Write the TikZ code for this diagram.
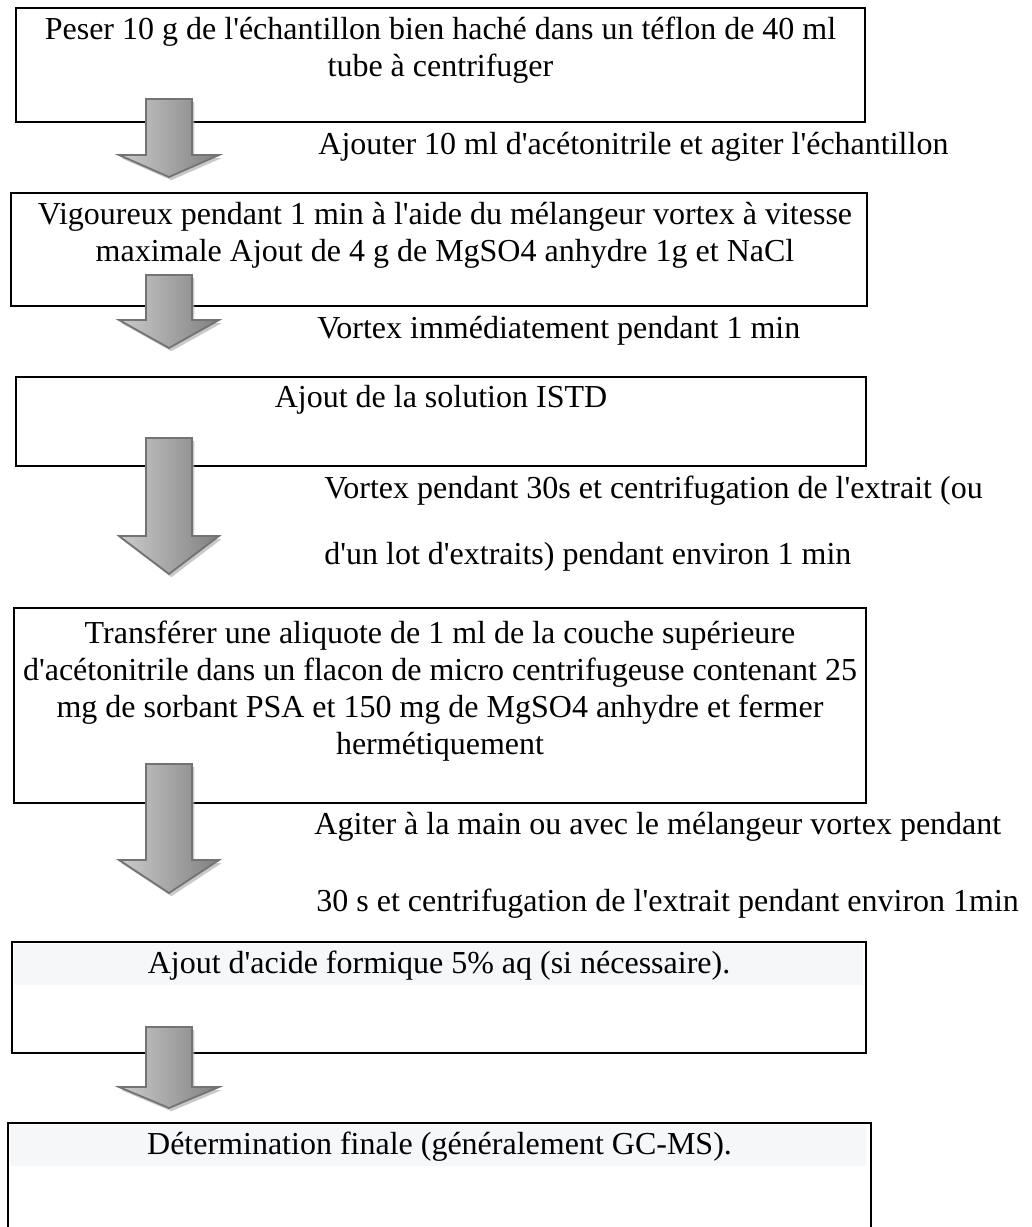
\documentclass[tikz,border=0pt]{standalone}
\usepackage{fontspec}
\setmainfont{Liberation Serif}[Ligatures=TeXOff]
\usetikzlibrary{calc,fit,shadows}
\definecolor{stripgray}{RGB}{246,247,249}
\tikzset{
  stepbox/.style={draw, line width=1.2pt, inner sep=0pt},
  steptext/.style={anchor=north, align=center, inner sep=0pt, font=\fontsize{16}{18.5}\selectfont},
  sidetext/.style={anchor=base west, inner sep=0pt, font=\fontsize{16}{18.5}\selectfont},
  blockarrow/.style={draw=black!55, line width=0.9pt, left color=black!20, right color=black!50,
    drop shadow={shadow xshift=1.2pt, shadow yshift=-1.6pt, fill=black!30, opacity=0.7}}
}
% block arrow: top of shaft, tip, head length
\newcommand{\flowarrow}[3]{%
  \path[blockarrow] ($(#1)+(-23,0)$) -- ($(#1)+(23,0)$) -- ($(#2)+(23,-#3)$) -- ($(#2)+(50,-#3)$)
    -- (#2) -- ($(#2)+(-50,-#3)$) -- ($(#2)+(-23,-#3)$) -- cycle;}
\begin{document}
\begin{tikzpicture}[x=0.5pt,y=-0.5pt]
  \useasboundingbox (0,0) rectangle (1032,1227);
  % boxes
  \node[stepbox, fit={(16,8) (865,122)}] (b1) {};
  \node[stepbox, fit={(11,193) (867,306)}] (b2) {};
  \node[stepbox, fit={(16,377) (866,466)}] (b3) {};
  \node[stepbox, fit={(14,608) (866,803)}] (b4) {};
  \node[stepbox, fit={(12,942) (866,1053)}] (b5) {};
  \node[stepbox, fit={(8,1123) (871,1260)}] (b6) {};
  \fill[stripgray] ($(b5.north west)+(3,3)$) rectangle ($(b5.north east)+(-4,44)$);
  \fill[stripgray] ($(b6.north west)+(3,3)$) rectangle ($(b6.north east)+(-6,44)$);
  % texts in the boxes
  \node[steptext] (t1) at ($(b1.north)+(0,10)$) {Peser 10 g de l'échantillon bien haché dans un téflon de 40 ml\\tube à centrifuger};
  \node[steptext] (t2) at ($(b2.north)+(6,10)$) {Vigoureux pendant 1 min à l'aide du mélangeur vortex à vitesse\\maximale Ajout de 4 g de MgSO4 anhydre 1g et NaCl};
  \node[steptext] (t3) at ($(b3.north)+(0,9)$) {Ajout de la solution ISTD};
  \node[steptext] (t4) at ($(b4.north)+(0,14)$) {Transférer une aliquote de 1 ml de la couche supérieure\\d'acétonitrile dans un flacon de micro centrifugeuse contenant 25\\mg de sorbant PSA et 150 mg de MgSO4 anhydre et fermer\\hermétiquement};
  \node[steptext] (t5) at ($(b5.north)+(0,10)$) {Ajout d'acide formique 5\% aq (si nécessaire).};
  \node[steptext] (t6) at ($(b6.north)+(0,10)$) {Détermination finale (généralement GC-MS).};
  % texts beside the arrows
  \node[sidetext] (s1) at (318,154) {Ajouter 10 ml d'acétonitrile et agiter l'échantillon};
  \node[sidetext] (s2) at (317,338) {Vortex immédiatement pendant 1 min};
  \node[sidetext] (s3) at (324,498) {Vortex pendant 30s et centrifugation de l'extrait (ou};
  \node[sidetext] (s4) at (324,564) {d'un lot d'extraits) pendant environ 1 min};
  \node[sidetext] (s5) at (314,834) {Agiter à la main ou avec le mélangeur vortex pendant};
  \node[sidetext] (s6) at (316,911) {30 s et centrifugation de l'extrait pendant environ 1min};
  % arrows
  \coordinate (a1s) at (169,99);   \coordinate (a1e) at (169,177);
  \coordinate (a2s) at (169,275);  \coordinate (a2e) at (169,348);
  \coordinate (a3s) at (169,438);  \coordinate (a3e) at (169,574);
  \coordinate (a4s) at (169,764);  \coordinate (a4e) at (169,893);
  \coordinate (a5s) at (169,1027); \coordinate (a5e) at (169,1108);
  \flowarrow{a1s}{a1e}{22}
  \flowarrow{a2s}{a2e}{28}
  \flowarrow{a3s}{a3e}{38}
  \flowarrow{a4s}{a4e}{33}
  \flowarrow{a5s}{a5e}{21}
\end{tikzpicture}
\end{document}
